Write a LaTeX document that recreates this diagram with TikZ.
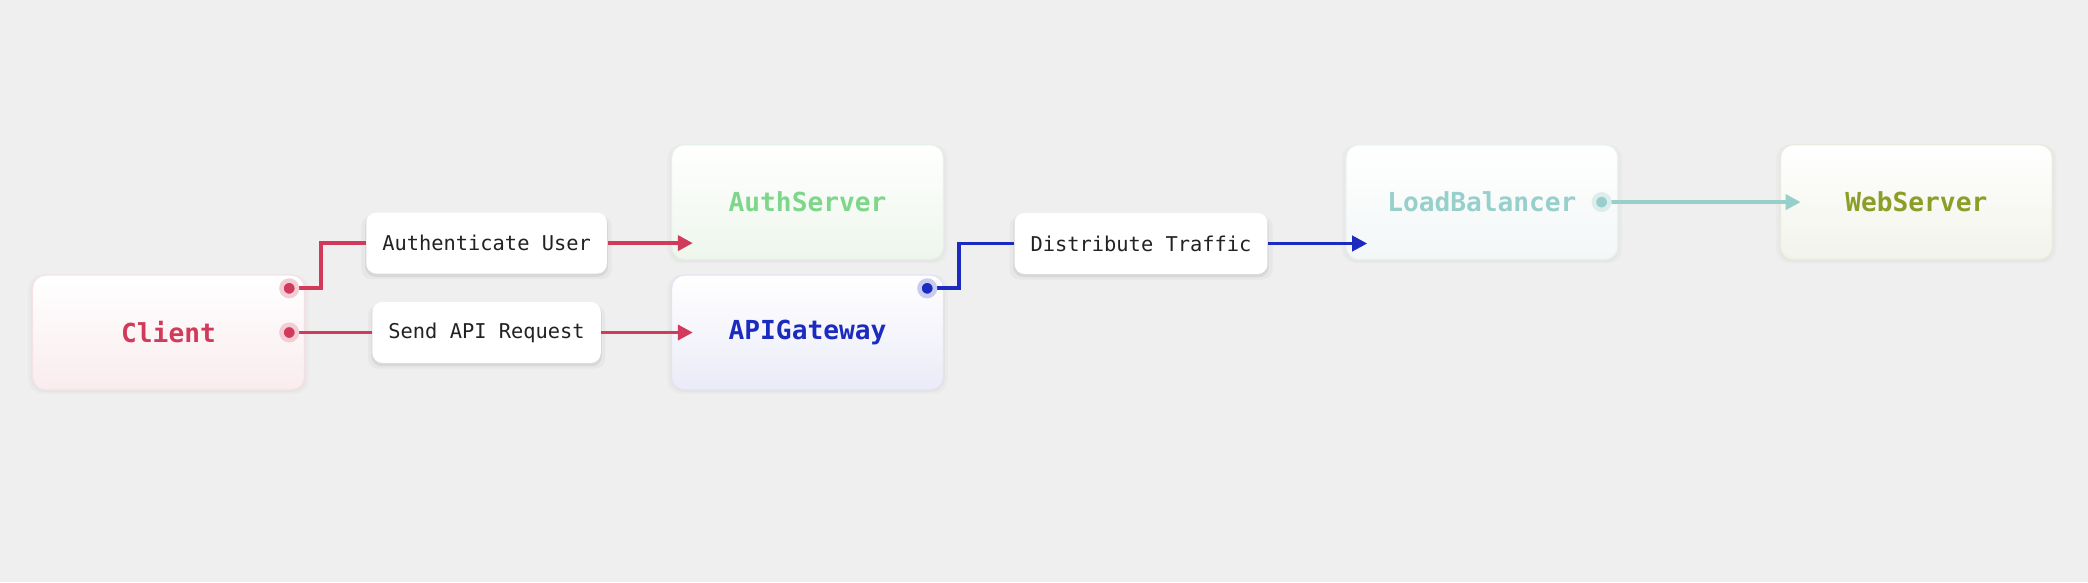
\documentclass[tikz,border=0pt]{standalone}
\usepackage{fontspec}
\setmonofont{DejaVu Sans Mono}
\usepackage{xcolor}
\usetikzlibrary{shapes,arrows.meta,positioning,shadows}

\definecolor{bgcol}{HTML}{EFEFEF}
\definecolor{clientred}{HTML}{D23A5C}
\definecolor{clientbot}{HTML}{F9ECEE}
\definecolor{clientedge}{HTML}{F4E2E5}
\definecolor{clienthalo}{HTML}{F1CDD5}
\definecolor{authgreen}{HTML}{7ED68B}
\definecolor{authbot}{HTML}{EEF6EC}
\definecolor{authedge}{HTML}{E7F0E6}
\definecolor{gwblue}{HTML}{1C2BBF}
\definecolor{gwbot}{HTML}{EBEBF8}
\definecolor{gwedge}{HTML}{E2E3F3}
\definecolor{gwhalo}{HTML}{C9CCEF}
\definecolor{lbteal}{HTML}{97CFCB}
\definecolor{lbbot}{HTML}{F3F7F7}
\definecolor{lbedge}{HTML}{E9F0F0}
\definecolor{lbhalo}{HTML}{DDEDEC}
\definecolor{webolive}{HTML}{8D9E28}
\definecolor{webbot}{HTML}{F2F3EA}
\definecolor{webedge}{HTML}{EAEBE0}
\definecolor{lbltext}{HTML}{222222}

\begin{document}
\begin{tikzpicture}[
    node distance=0.3cm,
    svc/.style={rectangle, rounded corners=0.13cm, minimum width=2.72cm, minimum height=1.15cm,
        top color=white, font=\ttfamily\bfseries\fontsize{7.45}{9}\selectfont,
        drop shadow={shadow xshift=0pt, shadow yshift=-0.5pt, shadow scale=1.03, opacity=0.04},
        drop shadow={shadow xshift=0pt, shadow yshift=-0.4pt, shadow scale=1.01, opacity=0.05}},
    lbl/.style={rectangle, rounded corners=0.1cm, fill=white, minimum height=0.61cm, inner xsep=0.16cm,
        text=lbltext, font=\ttfamily\fontsize{5.8}{7}\selectfont,
        drop shadow={shadow xshift=0pt, shadow yshift=-1.2pt, shadow scale=1.04, opacity=0.07},
        drop shadow={shadow xshift=0pt, shadow yshift=-0.8pt, shadow scale=1.01, opacity=0.14}},
    wire/.style={line width=1.1pt},
    arrow/.style={wire, -{Triangle[length=0.15cm, width=0.15cm]}},
    port/.style={circle, inner sep=0pt, minimum size=0.155cm, line width=0.045cm}
]
    \fill[bgcol] (0,0) rectangle (20.88,-5.82);
    \useasboundingbox (0,0) rectangle (20.88,-5.82);

    % services
    \node[svc, bottom color=clientbot, draw=clientedge, text=clientred] (client) at (1.685,-3.325) {Client};
    \node[svc, bottom color=gwbot, draw=gwedge, text=gwblue, right=3.656cm of client] (apigw) {APIGateway};
    \node[svc, bottom color=authbot, draw=authedge, text=authgreen, above=0.14cm of apigw] (authsrv) {AuthServer};
    \node[svc, bottom color=lbbot, draw=lbedge, text=lbteal, right=4.01cm of authsrv] (lb) {LoadBalancer};
    \node[svc, bottom color=webbot, draw=webedge, text=webolive, right=1.61cm of lb] (websrv) {WebServer};

    % edge labels
    \node[lbl, right=0.665cm of client] (sendlbl) {Send API Request};
    \node[lbl, above=0.27cm of sendlbl] (authlbl) {Authenticate User};
    \node[lbl] (distlbl) at (11.41,-2.435) {Distribute Traffic};

    % ports and arrow ends
    \coordinate (cport1) at ([xshift=-0.16cm, yshift=-0.14cm]client.north east);
    \coordinate (cport2) at ([xshift=-0.16cm]client.east);
    \coordinate (gwport) at ([xshift=-0.17cm, yshift=-0.14cm]apigw.north east);
    \coordinate (lbport) at ([xshift=-0.17cm]lb.east);
    \path (authsrv.west |- authlbl.east) ++(0.22,0) coordinate (authin);
    \path (apigw.west |- sendlbl.east) ++(0.22,0) coordinate (gwin);
    \path (lb.west |- distlbl.east) ++(0.22,0) coordinate (lbin);
    \path (websrv.west |- lbport) ++(0.21,0) coordinate (webin);

    \draw[wire, clientred] (cport1) -- ++(0.32,0) |- (authlbl.west);
    \draw[arrow, clientred] (authlbl.east) -- (authin);
    \draw[wire, clientred] (cport2) -- (sendlbl.west);
    \draw[arrow, clientred] (sendlbl.east) -- (gwin);
    \draw[wire, gwblue] (gwport) -- ++(0.32,0) |- (distlbl.west);
    \draw[arrow, gwblue] (distlbl.east) -- (lbin);
    \draw[arrow, lbteal] (lbport) -- (webin);

    \node[port, fill=clientred, draw=clienthalo] at (cport1) {};
    \node[port, fill=clientred, draw=clienthalo] at (cport2) {};
    \node[port, fill=gwblue, draw=gwhalo] at (gwport) {};
    \node[port, fill=lbteal, draw=lbhalo] at (lbport) {};
\end{tikzpicture}
\end{document}
